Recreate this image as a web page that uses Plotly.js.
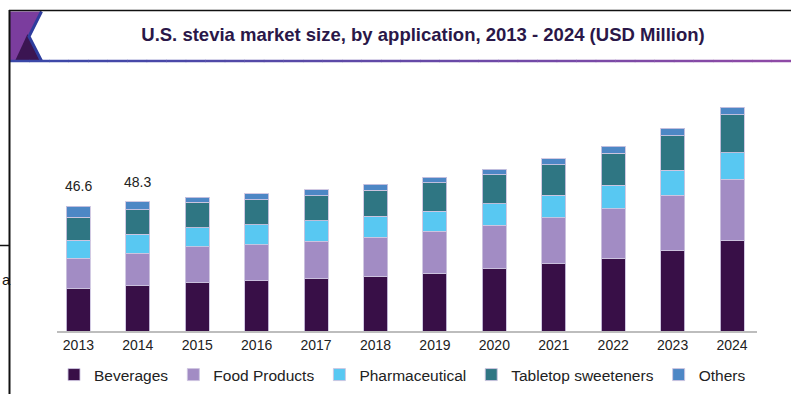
<!DOCTYPE html>
<html>
<head>
<meta charset="utf-8">
<script src="https://cdn.plot.ly/plotly-3.0.1.min.js"></script>
<style>
  html, body { margin: 0; padding: 0; background: #fff; }
  #chart { width: 791px; height: 394px; }
</style>
</head>
<body>
<div id="chart"></div>
<script>
// U.S. stevia market size by application, USD million
const years = ['2013', '2014', '2015', '2016', '2017', '2018', '2019', '2020', '2021', '2022', '2023', '2024'];
const beverages      = [15.9, 17.0, 18.1, 18.8, 19.6, 20.4, 21.7, 23.3, 25.2, 27.3, 30.3, 33.9];
const foodProducts   = [11.4, 12.1, 13.5, 13.4, 14.0, 14.6, 15.6, 16.3, 17.1, 18.4, 20.5, 22.9];
const pharmaceutical = [6.6, 7.2, 7.1, 7.5, 7.6, 7.9, 7.6, 8.1, 8.6, 8.9, 9.4, 10.0];
const tabletop       = [8.7, 9.0, 9.4, 9.5, 9.5, 9.7, 10.5, 10.7, 11.4, 12.0, 12.8, 14.1];
const others         = [4.0, 3.0, 2.0, 2.2, 2.1, 2.4, 2.2, 2.1, 2.2, 2.6, 2.8, 2.8];
const seriesNames = ['Beverages', 'Food Products', 'Pharmaceutical', 'Tabletop sweeteners', 'Others'];
const labelledYears = ['2013', '2014'];
const chartTitle = 'U.S. stevia market size, by application, 2013 - 2024 (USD Million)';

const series = [beverages, foodProducts, pharmaceutical, tabletop, others];
const colors = ['#380f47', '#a28cc4', '#58c8f2', '#2f7683', '#4d87c5'];
const FONT = 'Liberation Sans, Arial, sans-serif';

// page geometry and pixel -> paper helpers for the frame decoration
const W = 791, H = 394;
const M = { l: 57, r: 34, t: 90, b: 63, autoexpand: false };
const px = x => (x - M.l) / (W - M.l - M.r);
const py = y => (H - M.b - y) / (H - M.t - M.b);

const traces = series.map((vals, i) => ({
  type: 'bar',
  name: seriesNames[i],
  x: years,
  y: vals,
  marker: { color: colors[i], line: { color: 'rgba(205,196,224,0.9)', width: 1 } },
  hoverinfo: 'skip'
}));

// stacked totals, shown above the labelled years
const totals = years.map((_, j) => series.reduce((s, arr) => s + arr[j], 0));
const valueLabels = labelledYears.map(yr => {
  const j = years.indexOf(yr);   // category axis: position by index
  return {
    x: j, y: totals[j], xref: 'x', yref: 'y',
    text: totals[j].toFixed(1), showarrow: false,
    yanchor: 'middle', yshift: 20,
    font: { family: FONT, size: 14, color: '#222' }
  };
});

// header banner: gradient rule under the title
const rule = [];
const nSeg = 40, x0 = 10, x1 = 791;
const c0 = [58, 72, 168], c1 = [142, 74, 166];
for (let k = 0; k < nSeg; k++) {
  const t = k / (nSeg - 1);
  const c = c0.map((v, i) => Math.round(v + (c1[i] - v) * t));
  rule.push({
    type: 'line', xref: 'paper', yref: 'paper',
    x0: px(x0 + (x1 - x0) * k / nSeg), x1: px(x0 + (x1 - x0) * (k + 1) / nSeg + 0.5),
    y0: py(61), y1: py(61),
    line: { color: `rgb(${c.join(',')})`, width: 2.5 }
  });
}

const P = (x, y) => `${px(x)},${py(y)}`;
const shapes = [
  // purple corner block
  { type: 'path', xref: 'paper', yref: 'paper',
    path: `M ${P(10, 11.5)} L ${P(41.5, 11.5)} L ${P(29, 36.5)} L ${P(41.5, 61)} L ${P(10, 61)} Z`,
    fillcolor: '#7b3d9e', line: { width: 0 } },
  // dark triangle
  { type: 'path', xref: 'paper', yref: 'paper',
    path: `M ${P(15, 61)} L ${P(27.5, 34)} L ${P(40, 61)} Z`,
    fillcolor: '#3b1552', line: { width: 0 } },
  // blue chevron
  { type: 'path', xref: 'paper', yref: 'paper',
    path: `M ${P(41.5, 11.5)} L ${P(29, 36.5)} L ${P(41.5, 61)}`,
    line: { color: '#2e3d9e', width: 3 } },
  ...rule,
  // outer frame
  { type: 'line', xref: 'paper', yref: 'paper', x0: px(9), x1: px(800), y0: py(10.5), y1: py(10.5),
    line: { color: '#111', width: 1.5 } },
  { type: 'line', xref: 'paper', yref: 'paper', x0: px(9.5), x1: px(9.5), y0: py(10), y1: py(400),
    line: { color: '#111', width: 2 } },
  { type: 'line', xref: 'paper', yref: 'paper', x0: px(-5), x1: px(9), y0: py(245.5), y1: py(245.5),
    line: { color: '#111', width: 1.5 } }
];

const annotations = [
  ...valueLabels,
  { xref: 'paper', yref: 'paper', x: px(0), y: py(279), xanchor: 'left', yanchor: 'middle',
    text: 'a', showarrow: false, font: { family: FONT, size: 15, color: '#111' } }
];

const layout = {
  width: W, height: H,
  margin: M,
  paper_bgcolor: '#fff', plot_bgcolor: '#fff',
  barmode: 'stack',
  bargap: 0.596,
  title: {
    text: chartTitle,
    xref: 'container', yref: 'container',
    x: 423 / W, xanchor: 'center',
    y: 1 - 35 / H, yanchor: 'middle',
    font: { family: FONT, size: 18.5, weight: 'bold', color: '#2a1748' }
  },
  xaxis: {
    type: 'category',
    range: [-0.36, 11.42],
    showline: true, linecolor: '#bdbdbd', linewidth: 2,
    showgrid: false, zeroline: false, ticks: '',
    tickfont: { family: FONT, size: 14, color: '#222' }
  },
  yaxis: {
    range: [0, 90.2],
    visible: false, showgrid: false, zeroline: false
  },
  showlegend: true,
  legend: {
    orientation: 'h', traceorder: 'normal',
    x: px(54), xanchor: 'left',
    y: py(375), yanchor: 'middle',
    font: { family: FONT, size: 15.5, color: '#222' },
    bgcolor: 'rgba(0,0,0,0)', borderwidth: 0
  },
  shapes: shapes,
  annotations: annotations,
  hovermode: false
};

Plotly.newPlot('chart', traces, layout, { displayModeBar: false, staticPlot: true });
</script>
</body>
</html>
